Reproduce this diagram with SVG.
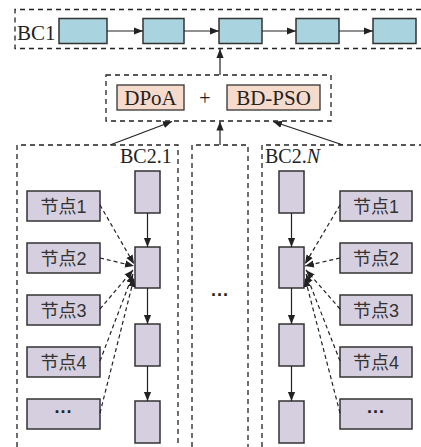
<svg xmlns="http://www.w3.org/2000/svg" width="421" height="447" viewBox="0 0 421 447">
  <defs>
    <marker id="ah" viewBox="0 0 10 10" refX="10" refY="5" markerWidth="9" markerHeight="9" markerUnits="userSpaceOnUse" orient="auto">
      <path d="M0,1 L10,5 L0,9 Z" fill="#222"/>
    </marker>
    <style>
      .frame { fill: none; stroke: #222; stroke-width: 1.3; stroke-dasharray: 5 4; }
      .blk1 { fill: #a9d3de; stroke: #333; stroke-width: 1.5; }
      .blk2 { fill: #d6cfe0; stroke: #333; stroke-width: 1.5; }
      .alg { fill: #f6dbcd; stroke: #333; stroke-width: 1.3; }
      .solid { fill: none; stroke: #222; stroke-width: 1.2; marker-end: url(#ah); }
      .dash { fill: none; stroke: #222; stroke-width: 1.2; stroke-dasharray: 4 3; marker-end: url(#ah); }
      .lbl { font-family: "Liberation Serif", "Times New Roman", serif; fill: #222; }
      .cn { font-family: "Liberation Sans", "Noto Sans CJK SC", sans-serif; font-size: 18px; fill: #333; }
      .ell { font-family: "Liberation Sans", sans-serif; font-size: 18px; font-weight: bold; fill: #222; }
    </style>
  </defs>

  <!-- main chain BC1 -->
  <g id="bc1">
    <path class="frame" d="M421,9.5 H15 V48.5 H421"/>
    <text class="lbl" x="17" y="40" font-size="21">BC1</text>
    <rect class="blk1" x="59" y="18.5" width="48" height="25"/>
    <rect class="blk1" x="143" y="18.5" width="41" height="25"/>
    <rect class="blk1" x="219" y="18.5" width="43" height="25"/>
    <rect class="blk1" x="296" y="18.5" width="43" height="25"/>
    <rect class="blk1" x="373" y="18.5" width="43" height="25"/>
  </g>

  <!-- consensus layer -->
  <g id="consensus">
    <rect class="frame" x="106" y="75" width="225" height="46"/>
    <rect class="alg" x="117" y="85" width="67" height="25"/>
    <text class="lbl" x="150.5" y="105" font-size="21" text-anchor="middle">DPoA</text>
    <text class="lbl" x="205" y="105" font-size="20" text-anchor="middle" fill="#555">+</text>
    <rect class="alg" x="227" y="85" width="93" height="25"/>
    <text class="lbl" x="273.5" y="105" font-size="21" text-anchor="middle">BD-PSO</text>
  </g>

  <!-- sub-chain BC2.1 -->
  <g id="bc2-1">
    <path class="frame" d="M17,447 V145 H178 V447"/>
    <text class="lbl" x="120" y="163" font-size="20">BC2.1</text>
    <rect class="blk2" x="135" y="171" width="25" height="42"/>
    <rect class="blk2" x="135" y="247" width="25" height="41"/>
    <rect class="blk2" x="135" y="324" width="25" height="42"/>
    <rect class="blk2" x="135" y="401" width="25" height="42"/>
  </g>
  <g id="nodes-left">
    <rect class="blk2" x="27" y="191" width="73" height="30"/>
    <text class="cn" x="63.5" y="212.5" text-anchor="middle">节点1</text>
    <rect class="blk2" x="27" y="243" width="73" height="30"/>
    <text class="cn" x="63.5" y="264.5" text-anchor="middle">节点2</text>
    <rect class="blk2" x="27" y="295" width="73" height="30"/>
    <text class="cn" x="63.5" y="316.5" text-anchor="middle">节点3</text>
    <rect class="blk2" x="27" y="347" width="73" height="30"/>
    <text class="cn" x="63.5" y="368.5" text-anchor="middle">节点4</text>
    <rect class="blk2" x="27" y="399" width="73" height="30"/>
    <text class="ell" x="63.5" y="418" text-anchor="middle">···</text>
  </g>

  <!-- placeholder sub-chains -->
  <g id="bc2-mid">
    <path class="frame" d="M192,447 V145 H248 V447"/>
    <text class="ell" x="220" y="301" text-anchor="middle">···</text>
  </g>

  <!-- sub-chain BC2.N -->
  <g id="bc2-n">
    <path class="frame" d="M262,447 V145 H421"/>
    <text class="lbl" x="265" y="163" font-size="20">BC2.<tspan font-style="italic">N</tspan></text>
    <rect class="blk2" x="279" y="171" width="25" height="42"/>
    <rect class="blk2" x="279" y="247" width="25" height="41"/>
    <rect class="blk2" x="279" y="324" width="25" height="42"/>
    <rect class="blk2" x="279" y="401" width="25" height="42"/>
  </g>
  <g id="nodes-right">
    <rect class="blk2" x="340" y="191" width="72" height="30"/>
    <text class="cn" x="376" y="212.5" text-anchor="middle">节点1</text>
    <rect class="blk2" x="340" y="243" width="72" height="30"/>
    <text class="cn" x="376" y="264.5" text-anchor="middle">节点2</text>
    <rect class="blk2" x="340" y="295" width="72" height="30"/>
    <text class="cn" x="376" y="316.5" text-anchor="middle">节点3</text>
    <rect class="blk2" x="340" y="347" width="72" height="30"/>
    <text class="cn" x="376" y="368.5" text-anchor="middle">节点4</text>
    <rect class="blk2" x="340" y="399" width="72" height="30"/>
    <text class="ell" x="376" y="418" text-anchor="middle">···</text>
  </g>

  <!-- connectors -->
  <g id="connectors">
    <!-- BC1 links -->
    <line class="solid" x1="107" y1="31" x2="143" y2="31"/>
    <line class="solid" x1="184" y1="31" x2="219" y2="31"/>
    <line class="solid" x1="262" y1="31" x2="296" y2="31"/>
    <line class="solid" x1="339" y1="31" x2="373" y2="31"/>
    <!-- consensus to BC1 -->
    <line class="solid" x1="220" y1="75" x2="220" y2="49"/>
    <!-- sub-chains to consensus -->
    <line class="solid" x1="110" y1="145" x2="172" y2="121.5"/>
    <line class="solid" x1="220" y1="145" x2="220" y2="121.5"/>
    <line class="solid" x1="343" y1="145" x2="273" y2="121.5"/>
    <!-- BC2.1 links -->
    <line class="solid" x1="147.5" y1="213" x2="147.5" y2="247"/>
    <line class="solid" x1="147.5" y1="288" x2="147.5" y2="324"/>
    <line class="solid" x1="147.5" y1="366" x2="147.5" y2="401"/>
    <!-- BC2.N links -->
    <line class="solid" x1="291.5" y1="213" x2="291.5" y2="247"/>
    <line class="solid" x1="291.5" y1="288" x2="291.5" y2="324"/>
    <line class="solid" x1="291.5" y1="366" x2="291.5" y2="401"/>
    <!-- nodes to BC2.1 -->
    <line class="dash" x1="100" y1="205" x2="134" y2="264"/>
    <line class="dash" x1="100" y1="258" x2="134" y2="266"/>
    <line class="dash" x1="100" y1="309" x2="133" y2="270"/>
    <line class="dash" x1="100" y1="361" x2="133" y2="274"/>
    <line class="dash" x1="100" y1="413" x2="134" y2="278"/>
    <!-- nodes to BC2.N -->
    <line class="dash" x1="340" y1="205" x2="305" y2="264"/>
    <line class="dash" x1="340" y1="258" x2="305" y2="266"/>
    <line class="dash" x1="340" y1="309" x2="306" y2="270"/>
    <line class="dash" x1="340" y1="361" x2="306" y2="274"/>
    <line class="dash" x1="340" y1="413" x2="305" y2="278"/>
  </g>
</svg>
